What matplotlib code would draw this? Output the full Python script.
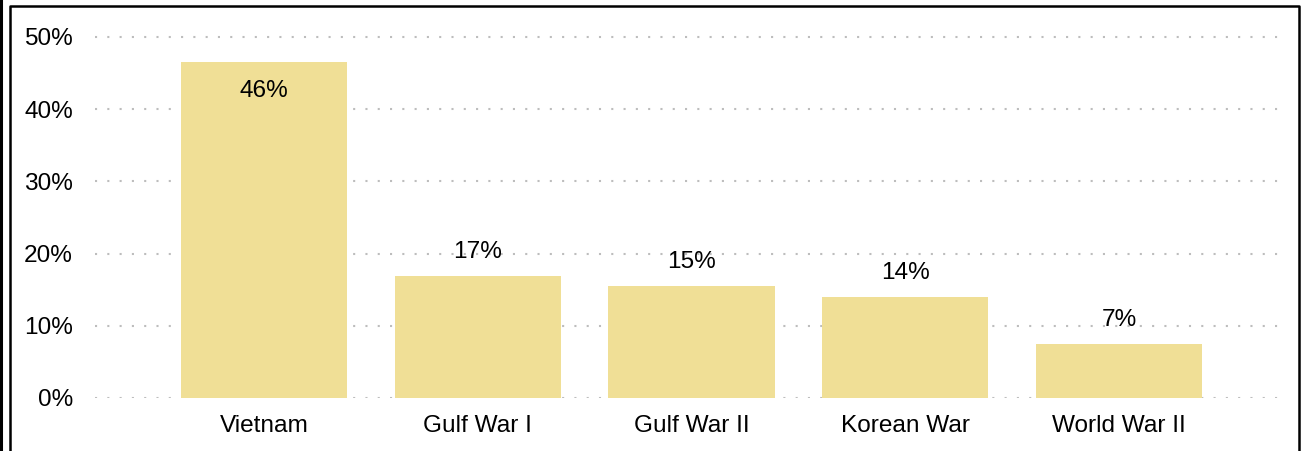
import matplotlib
matplotlib.use("Agg")
import matplotlib.pyplot as plt
from matplotlib.lines import Line2D
from matplotlib.ticker import FuncFormatter

W, H = 1307, 451

wars = ["Vietnam", "Gulf War I", "Gulf War II", "Korean War", "World War II"]
shares = [46.5, 16.9, 15.5, 14.0, 7.5]
share_labels = ["46%", "17%", "15%", "14%", "7%"]
y_ticks = [0, 10, 20, 30, 40, 50]

plt.rcParams['font.family'] = ['Liberation Sans', 'DejaVu Sans']
FS = 17.6

fig = plt.figure(figsize=(W / 100, H / 100), dpi=100)


def px(x0, y0, x1, y1):
    # pixel box (top-left origin) -> figure fraction rect
    return [x0 / W, 1 - y1 / H, (x1 - x0) / W, (y1 - y0) / H]


ax = fig.add_axes(px(95, 30, 1284, 398))
ax.set_xlim(-0.791, 4.772)
ax.set_ylim(0, 50 * 368 / 361)

bars = ax.bar(range(len(wars)), shares, width=0.777, color="#F0DF96", zorder=2)

ax.set_yticks(y_ticks)
ax.yaxis.set_major_formatter(FuncFormatter(lambda v, _: f"{v:.0f}%"))
ax.set_xticks(range(len(wars)))
ax.set_xticklabels(wars)
ax.tick_params(axis="both", length=0, labelsize=FS, colors="black")
ax.tick_params(axis="y", pad=16)
ax.tick_params(axis="x", pad=12)

ax.grid(axis="y", color="#bdbdbd", linewidth=1.5, linestyle=(0, (1, 4.9)), zorder=1)
for s in ax.spines.values():
    s.set_visible(False)

for b, lab, v in zip(bars, share_labels, shares):
    xc = b.get_x() + b.get_width() / 2
    if v > 40:
        ax.annotate(lab, (xc, v), xytext=(0, -21), textcoords="offset points",
                    ha="center", va="center", fontsize=FS)
    else:
        ax.annotate(lab, (xc, v), xytext=(0, 17), textcoords="offset points",
                    ha="center", va="center", fontsize=FS)

# frame around the card
fig.add_artist(Line2D([10 / W, 10 / W, 1299 / W, 1299 / W], [0, 1 - 6 / H, 1 - 6 / H, 0],
                      transform=fig.transFigure, color="black", linewidth=1.8))
fig.add_artist(Line2D([1 / W, 1 / W], [0, 1], transform=fig.transFigure,
                      color="black", linewidth=2.2))

fig.savefig("out.png", dpi=100)
